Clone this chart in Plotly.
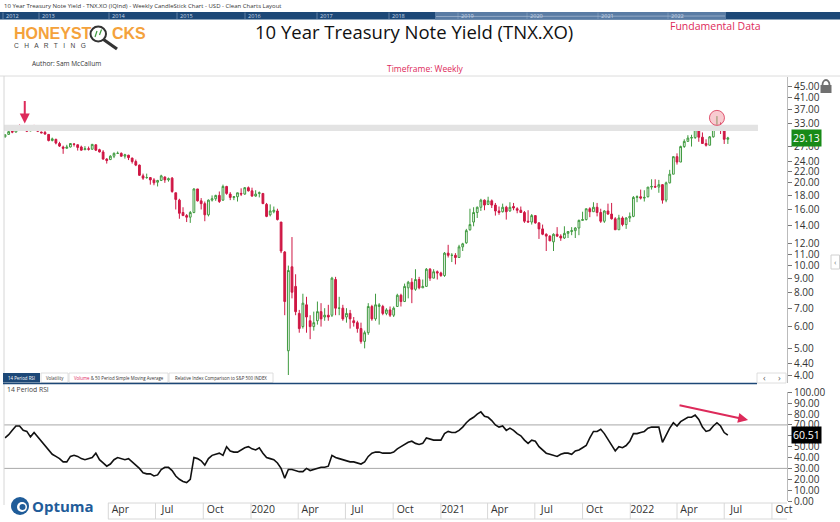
import math
import pandas as pd
import plotly.graph_objects as go

W, H = 840, 522


def px(x):
    return x / W


def py(y):
    return 1 - y / H


# ---------------- data (TNX.XO weekly, yield x10) ----------------
FIRST_WEEK = "2018-09-14"

opens = (
    # 2018
    [29.4, 30.0, 30.8, 30.6, 32.3, 31.7, 31.9, 30.9, 32.1, 31.9, 30.6, 30.5, 30.0, 28.5, 28.8, 27.8]
    # 2019
    + [27.0, 26.7, 27.0, 27.7, 27.5, 27.0, 26.4, 26.6, 26.5, 27.5, 26.4, 25.9, 24.4, 24.3, 25.0, 25.6,
       25.6, 25.0, 25.2, 24.6, 23.9, 23.2, 21.2, 20.9, 20.9, 20.5, 20.1, 20.4, 21.0, 20.5, 20.8, 18.4,
       17.3, 15.6, 15.2, 15.0, 15.6, 19.0, 17.2, 16.8, 15.3, 17.3, 17.5, 18.0, 17.3, 19.4, 18.2, 17.7,
       17.8, 18.3, 18.2, 19.2]
    # 2020
    + [18.7, 17.9, 18.3, 18.3, 16.7, 15.3, 15.7, 15.8, 14.4, 11.2, 4.9, 9.9, 8.4, 6.7, 6.0, 7.2,
       6.3, 6.0, 6.3, 6.8, 6.5, 6.6, 6.6, 8.9, 7.0, 7.0, 6.5, 6.7, 6.3, 6.2, 5.9, 5.3,
       5.7, 7.1, 6.4, 7.1, 7.1, 6.7, 6.9, 6.6, 7.1, 7.8, 7.4, 8.3, 8.7, 8.2, 8.9, 8.3,
       8.4, 9.7, 9.0, 9.5]
    # 2021
    + [9.4, 9.2, 11.1, 10.9, 10.9, 10.7, 11.7, 12.1, 13.5, 14.4, 15.6, 16.3, 17.3, 16.7, 17.2, 16.6,
       15.8, 15.7, 16.3, 15.8, 16.4, 16.1, 15.9, 15.6, 14.5, 14.4, 15.2, 14.3, 13.6, 13.0, 12.8, 12.2,
       13.0, 12.8, 12.6, 13.1, 13.3, 13.4, 13.7, 14.6, 14.7, 16.1, 15.7, 16.3, 15.6, 14.5, 15.8, 15.4,
       14.8, 13.5, 14.9, 14.1, 14.9]
    # 2022
    + [15.1, 17.7, 17.8, 17.6, 17.8, 19.3, 19.4, 19.3, 19.7, 17.3, 20.0, 21.5, 24.9, 23.8, 27.1, 28.3,
       29.1, 29.2, 31.3, 29.3, 27.8, 27.4, 29.4, 31.5, 32.3, 31.3, 28.8]
)

highs = (
    [30.0, 30.9, 31.1, 32.4, 32.6, 32.1, 32.0, 32.3, 32.5, 31.9, 30.7, 31.2, 30.1, 29.2, 28.9, 28.2]
    + [27.3, 27.5, 27.9, 27.9, 27.6, 27.3, 27.2, 27.1, 27.7, 27.6, 26.6, 26.3, 24.6, 25.2, 25.8, 26.0,
       25.8, 25.5, 25.3, 24.7, 24.3, 23.3, 21.6, 21.6, 21.0, 20.8, 20.5, 21.4, 21.1, 20.9, 21.0, 18.4,
       17.5, 16.3, 15.4, 15.8, 19.1, 19.0, 17.6, 17.1, 17.4, 18.0, 18.1, 18.6, 19.7, 19.5, 18.5, 17.9,
       18.4, 19.1, 19.3, 19.4]
    + [19.2, 18.8, 18.6, 18.3, 16.9, 16.7, 16.4, 16.1, 14.4, 11.3, 10.0, 12.7, 9.3, 6.9, 7.9, 7.7,
       6.6, 6.8, 7.4, 7.3, 7.0, 7.2, 9.1, 9.1, 7.7, 7.2, 7.0, 6.9, 6.5, 6.3, 6.2, 5.8,
       7.3, 7.2, 7.9, 7.3, 7.2, 7.0, 7.1, 7.1, 7.9, 7.9, 8.6, 8.8, 9.0, 9.7, 9.1, 8.9,
       9.8, 9.8, 9.7, 9.6]
    + [9.5, 11.2, 11.9, 11.1, 11.1, 11.9, 12.1, 13.6, 16.1, 16.3, 16.4, 17.5, 17.4, 17.8, 17.4, 16.9,
       16.4, 16.8, 16.5, 17.0, 16.9, 16.3, 16.4, 15.8, 15.9, 15.4, 15.2, 14.4, 14.1, 13.1, 12.9, 13.1,
       13.8, 13.0, 13.9, 13.3, 13.8, 13.8, 14.7, 15.7, 16.1, 16.3, 17.0, 16.9, 16.1, 15.9, 16.8, 16.9,
       15.0, 15.3, 15.1, 15.0, 15.6]
    + [17.9, 18.0, 18.9, 18.8, 19.3, 20.6, 20.6, 20.5, 19.8, 20.2, 22.3, 25.0, 25.6, 27.3, 28.8, 29.8,
       29.9, 31.5, 32.0, 30.5, 28.8, 29.6, 31.6, 34.98, 33.2, 31.6, 29.4]
)

lows = (
    [29.2, 29.9, 30.3, 30.5, 31.4, 31.4, 30.6, 30.8, 31.7, 30.6, 30.3, 29.9, 28.3, 28.3, 27.6, 27.0]
    + [25.5, 26.7, 26.9, 27.1, 26.2, 26.2, 26.3, 26.2, 26.4, 26.1, 25.8, 24.3, 23.5, 24.2, 24.6, 25.5,
       24.9, 24.5, 24.2, 23.5, 23.0, 21.2, 20.5, 20.7, 19.7, 19.6, 19.4, 20.3, 20.0, 20.2, 18.4, 16.0,
       14.8, 15.2, 14.4, 14.3, 15.5, 17.1, 16.0, 14.5, 15.1, 17.1, 17.2, 16.9, 17.2, 18.1, 17.3, 17.3,
       17.1, 17.9, 18.1, 18.6]
    + [17.8, 17.8, 17.7, 16.8, 15.0, 15.1, 15.5, 14.6, 11.1, 6.6, 4.0, 7.6, 6.6, 5.7, 5.9, 5.7,
       5.4, 5.8, 6.1, 6.0, 6.3, 6.3, 6.5, 6.6, 6.6, 6.3, 6.2, 5.9, 6.0, 5.7, 5.2, 5.0,
       5.6, 6.3, 6.3, 6.1, 6.6, 6.6, 6.5, 6.5, 7.1, 7.1, 7.4, 7.6, 7.3, 8.1, 8.2, 8.3,
       8.4, 8.8, 9.0, 8.9]
    + [9.1, 9.1, 10.7, 10.3, 10.1, 10.7, 11.3, 12.0, 13.4, 13.9, 14.9, 15.8, 15.9, 16.6, 16.2, 15.2,
       15.3, 15.6, 14.7, 15.7, 15.9, 15.5, 15.6, 14.3, 14.4, 14.1, 14.2, 12.5, 12.9, 11.3, 12.3, 11.3,
       12.7, 12.3, 12.5, 12.6, 12.9, 12.6, 12.9, 14.6, 14.6, 15.0, 15.7, 15.1, 14.3, 14.3, 15.3, 14.7,
       13.5, 13.5, 13.9, 13.6, 14.4]
    + [15.0, 17.0, 17.4, 17.1, 17.7, 18.9, 19.2, 18.4, 16.8, 17.0, 19.9, 21.5, 23.3, 23.8, 26.8, 28.3,
       27.1, 28.9, 28.2, 27.7, 27.1, 27.4, 29.2, 31.3, 30.1, 27.7, 27.7]
)

closes = (
    [29.9, 30.7, 30.6, 32.3, 31.6, 31.9, 30.8, 32.1, 31.9, 30.8, 30.4, 30.1, 28.5, 28.9, 27.9, 27.2]
    + [26.7, 27.0, 27.8, 27.6, 26.9, 26.3, 26.6, 26.5, 27.6, 26.3, 25.9, 24.4, 24.1, 25.0, 25.6, 25.6,
       25.0, 25.3, 24.7, 23.9, 23.2, 21.3, 20.8, 20.9, 20.5, 20.0, 20.4, 21.2, 20.5, 20.7, 18.6, 17.4,
       15.5, 15.2, 15.0, 15.6, 19.0, 17.2, 16.8, 15.3, 17.3, 17.5, 18.0, 17.1, 19.4, 18.3, 17.7, 17.8,
       18.4, 18.2, 19.2, 18.7]
    + [17.9, 18.2, 18.4, 16.8, 15.1, 15.8, 15.9, 14.7, 11.3, 7.4, 9.6, 8.0, 6.8, 5.9, 7.3, 6.5,
       6.0, 6.2, 6.8, 6.4, 6.6, 6.5, 9.0, 7.0, 7.0, 6.4, 6.7, 6.4, 6.2, 5.9, 5.3, 5.7,
       7.1, 6.4, 7.2, 7.2, 6.7, 6.9, 6.6, 7.0, 7.8, 7.4, 8.4, 8.7, 8.2, 8.9, 8.3, 8.4,
       9.7, 9.0, 9.5, 9.4]
    + [9.2, 11.1, 10.9, 10.9, 10.7, 11.7, 12.0, 13.4, 14.1, 15.6, 16.3, 17.3, 16.6, 17.2, 16.6, 15.8,
       15.6, 16.3, 15.7, 16.3, 16.2, 15.9, 15.6, 14.5, 14.4, 15.2, 14.3, 13.6, 13.0, 12.8, 12.3, 13.0,
       12.8, 12.6, 13.1, 13.3, 13.4, 13.7, 14.6, 14.7, 16.1, 15.7, 16.3, 15.6, 14.5, 15.8, 15.4, 14.8,
       13.5, 14.9, 14.1, 14.9, 15.1]
    + [17.7, 17.8, 17.6, 17.7, 19.3, 19.4, 19.3, 19.7, 17.3, 20.0, 21.5, 24.9, 23.8, 27.1, 28.3, 29.1,
       29.2, 31.3, 29.3, 27.8, 27.4, 29.4, 31.5, 32.3, 31.3, 28.8, 29.13]
)

rsi = (
    [58, 61, 65, 69, 69, 65, 64, 59, 63, 59, 54, 51, 46, 43, 41, 39]
    + [36, 36, 41, 42, 41, 39, 38, 39, 40, 44, 38, 35, 32, 34, 38, 40,
       39, 38, 39, 36, 33, 30, 26, 25, 25, 23, 24, 29, 31, 31, 28, 23,
       20, 18, 17, 20, 40, 39, 37, 33, 39, 42, 43, 44, 42, 50, 46, 45,
       45, 47, 49, 50]
    + [48, 47, 49, 44, 40, 39, 38, 35, 30, 21, 29, 29, 28, 27, 27, 30,
       28, 29, 30, 31, 31, 32, 42, 40, 39, 38, 37, 36, 36, 35, 34, 36,
       41, 44, 45, 45, 44, 44, 44, 45, 48, 50, 52, 54, 55, 53, 52, 53,
       58, 57, 56, 56]
    + [56, 62, 64, 63, 63, 65, 68, 72, 75, 77, 80, 82, 78, 77, 74, 70,
       68, 69, 65, 67, 65, 62, 60, 56, 53, 56, 55, 50, 47, 44, 43, 42,
       41, 43, 44, 44, 43, 46, 47, 49, 51, 58, 64, 64, 66, 62, 57, 51,
       46, 50, 49, 51, 55]
    + [62, 62, 63, 64, 67, 68, 68, 68, 54, 61, 67, 72, 69, 73, 75, 77,
       77, 79, 75, 68, 64, 65, 69, 72, 69, 63, 60.51]
)

PRICE_TICKS = [4, 4.4, 5, 6, 7, 8, 9, 10, 11, 12, 14, 16, 18, 20, 22, 24, 27, 33, 37, 41, 45]
RSI_TICKS = [0, 10, 20, 30, 40, 50, 60, 70, 80, 90, 100]
RSI_LEVELS = [70, 30]
QTR_TICKS = ["2019-04-01", "2019-07-01", "2019-10-01", "2020-01-01", "2020-04-01", "2020-07-01",
             "2020-10-01", "2021-01-01", "2021-04-01", "2021-07-01", "2021-10-01", "2022-01-01",
             "2022-04-01", "2022-07-01", "2022-10-01"]
QTR_LABELS = ["Apr", "Jul", "Oct", "2020", "Apr", "Jul", "Oct", "2021", "Apr", "Jul", "Oct", "2022",
              "Apr", "Jul", "Oct"]
NAV_YEARS = ["2012", "2013", "2014", "2015", "2016", "2017", "2018", "2019", "2020", "2021", "2022"]

X_RANGE = ["2018-09-12", "2022-10-30"]
RESIST_LO, RESIST_HI = 30.9, 32.5
RESIST_END = "2022-09-04"
TOP_ARROW_DATE = "2018-10-22"
DIV_ARROW = (("2022-04-03", 88.3), ("2022-08-16", 74.5))

dates = pd.date_range(FIRST_WEEK, periods=len(closes), freq="7D")
n = len(closes)

GREEN = "#3f9a3f"
RED = "#cf1744"
ACCENT = "#dd2a5a"
NAVY = "#1d4877"
ORANGE = "#f4a23c"
FONT = "Open Sans"

fig = go.Figure()

# resistance band (behind candles)
fig.add_trace(go.Scatter(
    x=[X_RANGE[0], RESIST_END, RESIST_END, X_RANGE[0], X_RANGE[0]],
    y=[RESIST_LO, RESIST_LO, RESIST_HI, RESIST_HI, RESIST_LO],
    fill="toself", fillcolor="#e3e3e3", line=dict(width=0), mode="lines",
    hoverinfo="skip", xaxis="x", yaxis="y", showlegend=False))

# candles coloured by close vs previous close, hollow when close > open
up_idx = [i for i in range(n) if closes[i] >= (closes[i - 1] if i else opens[i])]
dn_idx = [i for i in range(n) if i not in up_idx]


def sub(lst, idx):
    return [lst[i] for i in idx]


for idx, col in ((up_idx, GREEN), (dn_idx, RED)):
    fig.add_trace(go.Candlestick(
        x=sub(list(dates), idx), open=sub(opens, idx), high=sub(highs, idx),
        low=sub(lows, idx), close=sub(closes, idx),
        increasing=dict(line=dict(color=col, width=1), fillcolor="white"),
        decreasing=dict(line=dict(color=col, width=1), fillcolor=col),
        whiskerwidth=0, xaxis="x", yaxis="y", showlegend=False, hoverinfo="skip"))

# circle around the 2022 high
imax = max(range(n), key=lambda i: highs[i] if dates[i].year == 2022 else 0)
fig.add_trace(go.Scatter(
    x=[dates[imax]], y=[highs[imax] * 0.985], mode="markers",
    marker=dict(size=15, color="rgba(240,140,150,0.45)", line=dict(color="#e05570", width=1)),
    xaxis="x", yaxis="y", showlegend=False, hoverinfo="skip"))

# RSI
fig.add_trace(go.Scatter(x=dates, y=rsi, mode="lines", line=dict(color="#111", width=1.6),
                         xaxis="x2", yaxis="y2", showlegend=False, hoverinfo="skip"))

# y range so 45 sits at px 86 and 4 at px 375 inside a 77..383 domain
k = (math.log10(45) - math.log10(4)) / (375 - 86)
y_range = [math.log10(4) - (383 - 375) * k, math.log10(45) + (86 - 77) * k]

tickfont = dict(family=FONT, size=10, color="#333")
fig.update_layout(
    width=W, height=H, autosize=False,
    margin=dict(l=0, r=0, t=0, b=0, pad=0, autoexpand=False),
    paper_bgcolor="white", plot_bgcolor="white", showlegend=False,
    xaxis=dict(domain=[px(4), px(787)], range=X_RANGE, type="date", anchor="y",
               showticklabels=False, showgrid=False, zeroline=False, ticks="",
               rangeslider=dict(visible=False), showline=False, automargin=False),
    yaxis=dict(domain=[py(383), py(77)], type="log", range=y_range, side="right", anchor="x",
               tickvals=PRICE_TICKS, tickformat=".2f", ticks="outside", ticklen=4,
               tickcolor="#777", showline=True, linecolor="#bbb", showgrid=False,
               zeroline=False, tickfont=tickfont, automargin=False),
    xaxis2=dict(domain=[px(4), px(787)], range=X_RANGE, type="date", anchor="y2", matches="x",
                tickvals=QTR_TICKS, ticktext=QTR_LABELS, ticks="", showgrid=False,
                zeroline=False, showline=False, tickfont=dict(family=FONT, size=10.5, color="#333"),
                ticklabelshift=12, automargin=False),
    yaxis2=dict(domain=[py(501), py(392.3)], range=[0, 100], side="right", anchor="x2",
                tickvals=RSI_TICKS, tickformat=".2f", ticks="outside", ticklen=4,
                tickcolor="#777", showline=True, linecolor="#bbb", showgrid=False,
                zeroline=False, tickfont=tickfont, automargin=False),
)

shapes = []
anns = []


def line(x0, y0, x1, y1, color, width=1, **kw):
    shapes.append(dict(type="line", xref="paper", yref="paper", x0=px(x0), y0=py(y0),
                       x1=px(x1), y1=py(y1), line=dict(color=color, width=width), **kw))


def rect(x0, y0, x1, y1, fill, lc=None, lw=0, **kw):
    shapes.append(dict(type="rect", xref="paper", yref="paper", x0=px(x0), y0=py(y0),
                       x1=px(x1), y1=py(y1), fillcolor=fill,
                       line=dict(color=lc or fill, width=lw), **kw))


def text(t, x, y, size, color="#333", xanchor="left", family=FONT, **kw):
    anns.append(dict(text=t, x=px(x), y=py(y), xref="paper", yref="paper", showarrow=False,
                     xanchor=xanchor, yanchor="middle", font=dict(family=family, size=size, color=color),
                     **kw))


# RSI reference levels
for lv in RSI_LEVELS:
    shapes.append(dict(type="line", xref="paper", yref="y2", x0=px(4), x1=px(787), y0=lv, y1=lv,
                       line=dict(color="#a8a8a8", width=1), layer="below"))

# header
text("10 Year Treasury Note Yield - TNX.XO (IQInd) - Weekly CandleStick Chart - USD - Clean Charts Layout",
     2, 6, 6.0, "#333")
rect(0, 12, 840, 19.5, NAVY)
rect(435, 12, 726, 19.5, "#5a7ca4")
nav_x = [4, 40, 110, 178, 246, 318, 390, 459, 528, 599, 669]
for yr, xx in zip(NAV_YEARS, nav_x):
    line(xx - 1, 12.5, xx - 1, 19, "#8fa6c4", 0.6)
    text(yr, xx, 15.8, 5.6, "#c9d6e6")
line(436, 16.5, 725, 16.0, "#b8c8dc", 0.6)

# HONEYSTOCKS logo
text("<b>HONEYST</b>", 12, 33.5, 16, ORANGE, family="Liberation Sans")
shapes.append(dict(type="circle", xref="paper", yref="paper", x0=px(90.5), y0=py(41.5), x1=px(106),
                   y1=py(26.5), line=dict(color="#333", width=2), fillcolor="white"))
line(103.5, 39.5, 117, 49, "#333", 3.2)
line(95, 37, 97, 31, GREEN, 1.2)
line(99.5, 35, 101.5, 29.5, GREEN, 1.2)
text("<b>CKS</b>", 109.5, 33.5, 16, ORANGE, family="Liberation Sans")
text("C   H   A   R   T   I   N   G", 12, 45.3, 6.6, "#444", family="Liberation Sans")

text("10 Year Treasury Note Yield (TNX.XO)", 414, 32, 18.5, "#111", xanchor="center")
text("Fundamental Data", 668, 26, 10.5, ACCENT)
text("Author: Sam McCallum", 30, 63, 6.5, "#333")
text("Timeframe: Weekly", 425, 68, 8.5, ACCENT, xanchor="center")

# panel frame
line(0, 76, 840, 76, "#dcdcdc", 1)
line(4, 76, 4, 505, "#d6d6d6", 1)

# lock icon and side button
shapes.append(dict(type="circle", xref="paper", yref="paper", x0=px(822.5), y0=py(90), x1=px(829.5),
                   y1=py(80), line=dict(color="#707070", width=1.8)))
rect(820.5, 85, 831.5, 93, "#707070")
rect(831, 255, 839.5, 269, "white", "#d0d0d0", 1)
text("‹", 835.2, 261, 8, "#777", xanchor="center")

# tabs
rect(3, 373, 40, 382.5, NAVY)
text("14 Period RSI", 21.5, 377.8, 4.4, "white", xanchor="center")
tabs = [(41, 68, "Volatility"),
        (69, 168, "<span style='color:#e0245e'>Volume</span> & 50 Period Simple Moving Average"),
        (169, 273, "Relative Index Comparison to S&P 500 INDEX")]
for x0, x1, t in tabs:
    rect(x0, 373, x1, 382.5, "white", "#d6d6d6", 0.8)
    text(t, (x0 + x1) / 2, 377.8, 4.4, "#333", xanchor="center")
line(3, 383.5, 757, 383.5, NAVY, 1.6)
rect(757, 373, 786, 383, "white", "#d6d6d6", 0.8)
text("‹", 764, 377.5, 9, "#666", xanchor="center")
text("›", 779, 377.5, 9, "#666", xanchor="center")

text("14 Period RSI", 5, 389, 6.8, "#444")

# value labels
anns.append(dict(text=f"{closes[-1]:.2f}", x=px(791), xref="paper", y=math.log10(closes[-1]), yref="y",
                 showarrow=False, xanchor="left", yanchor="middle", bgcolor="#178a17",
                 font=dict(family=FONT, size=10.5, color="white"), borderpad=1))
anns.append(dict(text=f"{rsi[-1]:.2f}", x=px(791), xref="paper", y=rsi[-1], yref="y2",
                 showarrow=False, xanchor="left", yanchor="middle", bgcolor="#000",
                 font=dict(family=FONT, size=10.5, color="white"), borderpad=1))

# arrows
anns.append(dict(text="", x=TOP_ARROW_DATE, y=math.log10(32.9), xref="x", yref="y",
                 ax=0, ay=-24, showarrow=True, arrowhead=2, arrowsize=1, arrowwidth=2,
                 arrowcolor=ACCENT))
(a0x, a0y), (a1x, a1y) = DIV_ARROW
anns.append(dict(text="", x=a1x, y=a1y, xref="x2", yref="y2", ax=a0x, ay=a0y,
                 axref="x2", ayref="y2", showarrow=True, arrowhead=2, arrowsize=1,
                 arrowwidth=2, arrowcolor=ACCENT))

# date-axis cells
line(108, 503, 787, 503, "#d8d8d8", 1)
line(108, 519, 787, 519, "#d8d8d8", 1)
for d in QTR_TICKS:
    shapes.append(dict(type="line", xref="x2", yref="paper", x0=d, x1=d, y0=py(503), y1=py(519),
                       line=dict(color="#d8d8d8", width=1)))

# Optuma logo
shapes.append(dict(type="circle", xref="paper", yref="paper", x0=px(11), y0=py(515), x1=px(29),
                   y1=py(497), fillcolor="#1f5c99", line=dict(width=0)))
shapes.append(dict(type="circle", xref="paper", yref="paper", x0=px(17), y0=py(512), x1=px(27),
                   y1=py(502), fillcolor="white", line=dict(width=0)))
shapes.append(dict(type="circle", xref="paper", yref="paper", x0=px(19.5), y0=py(510), x1=px(25.5),
                   y1=py(504), fillcolor="#1f5c99", line=dict(width=0)))
text("<b>Optuma</b>", 30, 506, 15, "#1f5c99")

fig.update_layout(shapes=shapes, annotations=anns)
fig.write_html(
    "out.html",
    config={"displayModeBar": False},
    post_script="document.body.style.margin='0px';document.body.style.overflow='hidden';",
)
